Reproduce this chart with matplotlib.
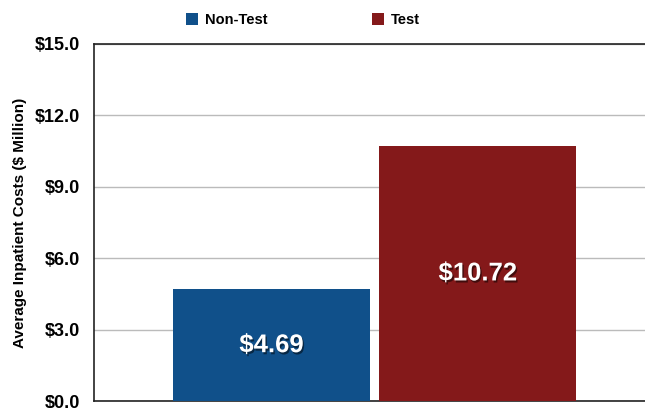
import matplotlib
matplotlib.use("Agg")
import matplotlib.pyplot as plt
import matplotlib.patheffects as pe
from matplotlib import font_manager

groups = ["Non-Test", "Test"]
costs = [4.69, 10.72]
bar_labels = ["$4.69", "$10.72"]
yticks = [0, 3, 6, 9, 12, 15]
ytick_labels = ["$0.0", "$3.0", "$6.0", "$9.0", "$12.0", "$15.0"]
colors = ["#10508a", "#84191a"]


def main():
    names = {f.name for f in font_manager.fontManager.ttflist}
    narrow = "Liberation Sans Narrow" if "Liberation Sans Narrow" in names else "Liberation Sans"
    plt.rcParams["font.family"] = [narrow, "DejaVu Sans"]

    fig = plt.figure(figsize=(6.45, 4.08), dpi=100)
    ax = fig.add_axes([94 / 645, 7 / 408, 580 / 645, 357 / 408])

    x = [0, 1]
    bars = ax.bar(x, costs, width=0.955, color=colors, zorder=3)

    for xi, v, lab in zip(x, costs, bar_labels):
        ax.text(xi, v / 2, lab, ha="center", va="center", color="white",
                fontsize=18.5, fontweight="bold", family="Liberation Sans", zorder=4,
                path_effects=[pe.withSimplePatchShadow(offset=(1, -1.5), shadow_rgbFace="black", alpha=0.5)])

    ax.set_xlim(-0.86, 1.95)
    ax.set_ylim(0, 15)
    ax.set_yticks(yticks)
    ax.set_yticklabels(ytick_labels, fontsize=13, fontweight="bold")
    ax.set_xticks([])
    ax.tick_params(axis="y", length=0, pad=10)
    ax.yaxis.grid(True, color="#bbbbbb", linewidth=1, zorder=0)
    for s in ax.spines.values():
        s.set_color("#222222")
        s.set_linewidth(1.2)

    ax.set_ylabel("Average Inpatient Costs ($ Million)", fontsize=11, fontweight="bold", labelpad=6)

    fig.legend(handles=list(bars), labels=groups, loc="center left", bbox_to_anchor=(183 / 645, 1 - 20 / 408),
               ncol=2, frameon=False, prop={"weight": "bold", "size": 10.5},
               handlelength=0.8, handleheight=0.8, columnspacing=7.2, handletextpad=0.5,
               borderaxespad=0, borderpad=0.2)

    fig.savefig("out.png", dpi=100)


if __name__ == "__main__":
    main()
